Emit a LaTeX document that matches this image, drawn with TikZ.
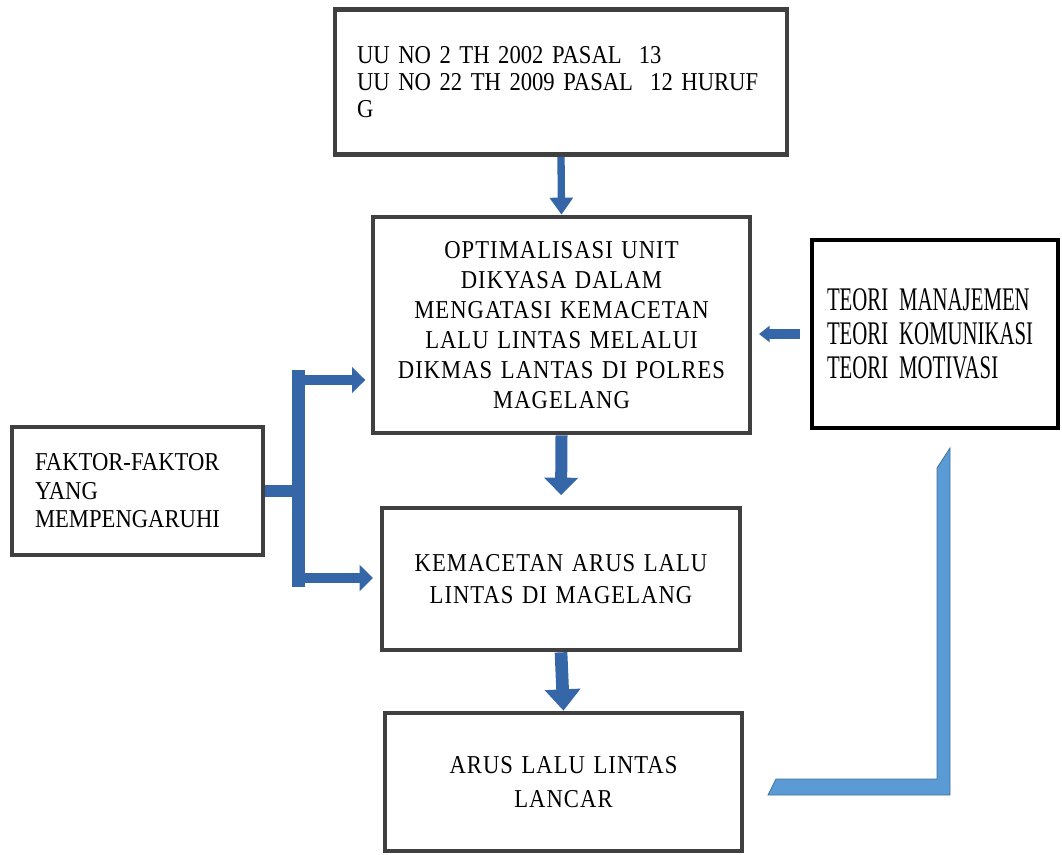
\documentclass[tikz,border=0pt]{standalone}
\usepackage{fontspec}
\setmainfont{Liberation Serif}[FakeStretch=0.88]
\newfontfamily\spacedfont{Liberation Serif}[FakeStretch=0.88, LetterSpace=4]
\newfontfamily\tallfont{Liberation Serif}[FakeStretch=0.63]
\newcommand{\tallsetup}{\tallfont\fontsize{24.75}{25.5}\selectfont\fontdimen2\font=3.5pt\relax}
\usetikzlibrary{arrows.meta}
\definecolor{boxgray}{HTML}{404040}
\definecolor{arrowblue}{HTML}{3566A8}
\definecolor{lightblue}{HTML}{5B9BD5}
\definecolor{lightedge}{HTML}{41719C}
\begin{document}
\begin{tikzpicture}[x=0.75pt,y=-0.75pt,
  box/.style={draw=boxgray, line width=3.5pt, fill=white, inner sep=0pt, text=black},
  flow/.style={draw=arrowblue, line cap=butt},
  barline/.style={draw=arrowblue, line width=10pt},
]
\useasboundingbox (0,0) rectangle (1062,854);

% boxes
\node[box, minimum width=339pt, minimum height=108.75pt, text width=306pt,
      inner xsep=16.5pt, align=left, font=\fontsize{19.3}{20}\selectfont]
  (law) at (561,82) {UU NO 2 TH 2002 PASAL\ \ 13\\UU NO 22 TH 2009 PASAL\ \ 12 HURUF\\G};

\node[box, minimum width=282.75pt, minimum height=162pt, text width=270pt,
      align=center, font=\spacedfont\fontsize{19.3}{22.5}\selectfont]
  (opt) at (561.5,325) {OPTIMALISASI UNIT\\DIKYASA DALAM\\MENGATASI KEMACETAN\\LALU LINTAS MELALUI\\DIKMAS LANTAS DI POLRES\\MAGELANG};

\node[box, minimum width=268.5pt, minimum height=106.5pt, text width=250pt,
      align=center, font=\spacedfont\fontsize{19.3}{24}\selectfont]
  (macet) at (561,579) {KEMACETAN ARUS LALU\\LINTAS DI MAGELANG};

\node[box, minimum width=267.75pt, minimum height=103.5pt, text width=250pt,
      align=center, font=\spacedfont\fontsize{19.3}{25}\selectfont]
  (lancar) at (563.5,782) {ARUS LALU LINTAS\\LANCAR};

\node[box, minimum width=188.25pt, minimum height=96pt, text width=153.75pt,
      inner xsep=17.25pt, align=left, font=\fontsize{19.3}{21.4}\selectfont]
  (faktor) at (137.5,491) {FAKTOR-FAKTOR\\YANG\\MEMPENGARUHI};

\node[box, draw=black, line width=3pt, minimum width=184.5pt, minimum height=141pt,
      text width=162pt, inner xsep=11.25pt, align=left, font=\tallsetup]
  (teori) at (935,334) {TEORI MANAJEMEN\\TEORI KOMUNIKASI\\TEORI MOTIVASI};

% vertical flow arrows
\draw[flow, line width=5.5pt, -{Triangle[width=17pt,length=12.75pt]}]
  (law.south) -- (opt.north);
\draw[flow, line width=9pt, -{Triangle[width=25pt,length=13pt]}, shorten >=8pt]
  (opt.south) -- (macet.north);
\draw[flow, line width=9.5pt, -{Triangle[width=26pt,length=16pt]}]
  (macet.south) -- (lancar.north);

% theory arrow
\draw[flow, line width=7pt, -{Triangle[width=12pt,length=8pt]}, shorten <=7.5pt, shorten >=5pt]
  (teori.west) -- (opt.east |- teori.west);

% bracket from factors
\coordinate (bartop) at (298.5,370);
\coordinate (barbot) at (298.5,587);
\coordinate (j1) at (298.5,380);
\coordinate (j2) at (298.5,578);
\draw[flow, line width=8pt, -{Triangle[width=19pt,length=10pt]}, shorten >=4pt]
  (j1) -- (opt.west |- j1);
\draw[flow, line width=8pt, -{Triangle[width=19pt,length=10pt]}, shorten >=5pt]
  (j2) -- (macet.west |- j2);
\draw[flow, line width=9pt] (faktor.east) -- (faktor.east -| bartop);
\draw[barline] (bartop) -- (barbot);

% light blue L-shaped feedback bar
\filldraw[fill=lightblue, draw=lightedge, line width=0.6pt]
  (950,448) -- (950,795) -- (768,795) -- (776,779) -- (937,779) -- (937,468) -- cycle;
\end{tikzpicture}
\end{document}
